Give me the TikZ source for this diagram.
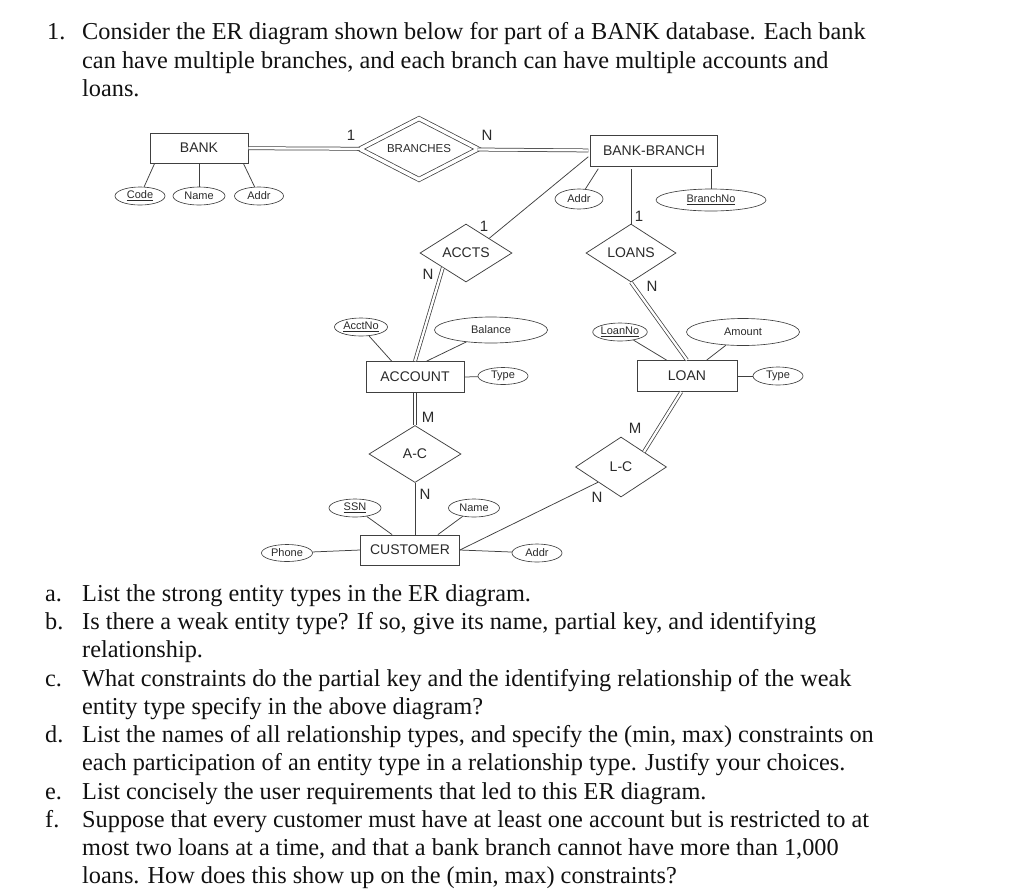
\documentclass[tikz,border=0pt]{standalone}
\usepackage{fontspec}
\setmainfont{Liberation Serif}
\setsansfont{Liberation Sans}
\usetikzlibrary{calc,shapes.geometric}
\definecolor{ink}{HTML}{111111}
\definecolor{linegray}{HTML}{404040}
\definecolor{labelgray}{HTML}{2A2A2A}

\begin{document}
\begin{tikzpicture}[
  x=1pt, y=-1pt,
  qtext/.style={font=\fontsize{24.3}{28}\selectfont, text=ink, anchor=base west, inner sep=0pt},
  entity/.style={draw=linegray, line width=0.75pt, fill=white, text=labelgray,
    font=\sffamily\fontsize{14}{16}\selectfont, inner sep=0pt},
  weakentity/.style={entity, double, double distance=2.6pt},
  relation/.style={diamond, aspect=1.6, draw=linegray, line width=0.75pt, fill=white,
    text=labelgray, font=\sffamily\fontsize{14}{16}\selectfont, inner sep=0pt},
  idrelation/.style={relation, aspect=2, double, double distance=3.5pt,
    font=\sffamily\fontsize{11.5}{13}\selectfont},
  attr/.style={ellipse, draw=linegray, line width=0.65pt, fill=white, text=labelgray,
    font=\sffamily\fontsize{11}{13}\selectfont, inner sep=0pt},
  link/.style={draw=linegray, line width=0.75pt},
  total/.style={link, double, double distance=2.3pt},
  card/.style={text=labelgray, font=\sffamily\fontsize{15}{17}\selectfont, inner sep=0pt}
]
\fill[white] (0,0) rectangle (1024,895);
\useasboundingbox (0,0) rectangle (1024,895);

% ---------------------------------------------------------------------------
% question
% ---------------------------------------------------------------------------
\node[qtext] (n1) at (47,39) {1.};
\node[qtext] (q1a) at (82,39) {Consider the ER diagram shown below for part of a BANK database. Each bank};
\node[qtext] (q1b) at (82,68) {can have multiple branches, and each branch can have multiple accounts and};
\node[qtext] (q1c) at (82,96) {loans.};

% ---------------------------------------------------------------------------
% entities and relationships
% ---------------------------------------------------------------------------
\node[entity, minimum width=98, minimum height=30] (bank) at (199,148) {BANK};
\node[idrelation, minimum width=118.6, minimum height=61.2] (branches) at (419,149) {BRANCHES};
\node[weakentity, minimum width=130.7, minimum height=34.7] (bb) at (654,151) {BANK-BRANCH};

\node[relation, minimum width=92, minimum height=58] (accts) at (466,253) {ACCTS};
\node[relation, minimum width=90, minimum height=58] (loans) at (631,253) {LOANS};

\node[entity, minimum width=98, minimum height=31] (account) at (415,377) {ACCOUNT};
\node[entity, minimum width=100, minimum height=31] (loan) at (687,376) {LOAN};

\node[relation, minimum width=92, minimum height=57] (ac) at (415,454) {A-C};
\node[relation, minimum width=91, minimum height=60] (lc) at (621,467) {L-C};

\node[entity, minimum width=99, minimum height=30] (customer) at (410,550) {CUSTOMER};

% attributes
\node[attr, minimum width=50, minimum height=18] (code) at (140,196) {\underline{Code}};
\node[attr, minimum width=52, minimum height=18] (bname) at (199,196) {Name};
\node[attr, minimum width=49, minimum height=18] (baddr) at (259,196) {Addr};
\node[attr, minimum width=48, minimum height=20] (bbaddr) at (579,199) {Addr};
\node[attr, minimum width=110, minimum height=22] (bno) at (711,200) {\underline{BranchNo}};
\node[attr, minimum width=53, minimum height=18] (acctno) at (361,327) {\underline{AcctNo}};
\node[attr, minimum width=113, minimum height=26] (balance) at (491,330) {Balance};
\node[attr, minimum width=50, minimum height=17] (atype) at (503,376) {Type};
\node[attr, minimum width=50, minimum height=18] (loanno) at (620,332) {\underline{LoanNo}};
\node[attr, minimum width=113, minimum height=27] (amount) at (743,332) {Amount};
\node[attr, minimum width=50, minimum height=18] (ltype) at (778,376) {Type};
\node[attr, minimum width=52, minimum height=18] (ssn) at (355,508) {\underline{SSN}};
\node[attr, minimum width=51, minimum height=18] (cname) at (474,508) {Name};
\node[attr, minimum width=51, minimum height=17] (phone) at (287,553) {Phone};
\node[attr, minimum width=50, minimum height=18] (caddr) at (537,553) {Addr};

% relationship lines
\draw[total] (bank) -- (branches);
\draw[total] (branches) -- (bb);
\draw[link] (bb.185) -- (accts.north east);
\draw[total] (account.north) -- (accts.south west);
\draw[link] (loans.north) -- (loans.north |- bb.south);
\draw[total] (loans.south) -- (loan.north);
\draw[total] (account.south) -- (ac.north);
\draw[link] (ac.south) -- (ac.south |- customer.north);
\draw[total] (lc.north east) -- (loan.250);
\draw[link] (customer.east) -- (lc.south west);

% attribute lines
\draw[link] ($(bank.south west)+(5,0)$) -- (code);
\draw[link] (bank.south) -- (bname);
\draw[link] ($(bank.south east)+(-5,0)$) -- (baddr);
\draw[link] ($(bb.south west)+(10,0)$) -- (bbaddr);
\draw[link] (bno.north) -- (bno.north |- bb.south);
\draw[link] (acctno) -- ($(account.north west)+(26,0)$);
\draw[link] (balance) -- ($(account.north west)+(61,0)$);
\draw[link] (account.east) -- (atype);
\draw[link] (loanno) -- ($(loan.north west)+(30,0)$);
\draw[link] (amount) -- ($(loan.north west)+(70,0)$);
\draw[link] (loan.east) -- (ltype);
\draw[link] (ssn) -- ($(customer.north west)+(32,0)$);
\draw[link] (cname) -- ($(customer.north east)+(-22,0)$);
\draw[link] (phone) -- (customer.west);
\draw[link] (customer.east) -- (caddr);

% cardinalities
\node[card] (c1) at (351,135) {1};
\node[card] (c2) at (487,135) {N};
\node[card] (c3) at (484,226) {1};
\node[card] (c4) at (428,274) {N};
\node[card] (c5) at (639,216) {1};
\node[card] (c6) at (652,286) {N};
\node[card] (c7) at (428,417) {M};
\node[card] (c8) at (425,494) {N};
\node[card] (c9) at (635,428) {M};
\node[card] (c10) at (597,497) {N};

% ---------------------------------------------------------------------------
% sub-questions
% ---------------------------------------------------------------------------
\node[qtext] (la) at (45,601) {a.};
\node[qtext] (qa) at (82,601) {List the strong entity types in the ER diagram.};
\node[qtext] (lb) at (45,629) {b.};
\node[qtext] (qb1) at (82,629) {Is there a weak entity type? If so, give its name, partial key, and identifying};
\node[qtext] (qb2) at (82,657) {relationship.};
\node[qtext] (lc1) at (45,686) {c.};
\node[qtext] (qc1) at (82,686) {What constraints do the partial key and the identifying relationship of the weak};
\node[qtext] (qc2) at (82,714) {entity type specify in the above diagram?};
\node[qtext] (ld) at (45,742) {d.};
\node[qtext] (qd1) at (82,742) {List the names of all relationship types, and specify the (min, max) constraints on};
\node[qtext] (qd2) at (82,770) {each participation of an entity type in a relationship type. Justify your choices.};
\node[qtext] (le) at (45,799) {e.};
\node[qtext] (qe) at (82,799) {List concisely the user requirements that led to this ER diagram.};
\node[qtext] (lf) at (45,827) {f.};
\node[qtext] (qf1) at (82,827) {Suppose that every customer must have at least one account but is restricted to at};
\node[qtext] (qf2) at (82,855) {most two loans at a time, and that a bank branch cannot have more than 1,000};
\node[qtext] (qf3) at (82,883) {loans. How does this show up on the (min, max) constraints?};

\end{tikzpicture}
\end{document}
